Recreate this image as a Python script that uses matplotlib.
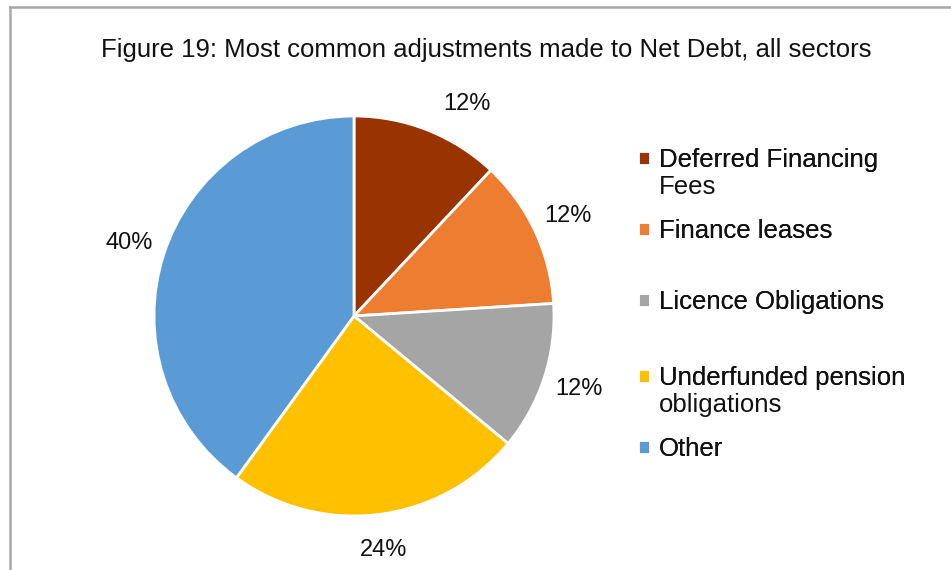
import matplotlib
matplotlib.use("Agg")
import matplotlib.pyplot as plt
from matplotlib.lines import Line2D

plt.rcParams['font.family'] = ['Liberation Sans', 'DejaVu Sans']

categories = ["Deferred Financing\nFees", "Finance leases", "Licence Obligations",
              "Underfunded pension\nobligations", "Other"]
values = [12, 12, 12, 24, 40]
colors = ["#993300", "#ED7D31", "#A5A5A5", "#FFC000", "#5B9BD5"]
title = "Figure 19: Most common adjustments made to Net Debt, all sectors"

# layout: vertical centre (pixels from top) of the first line of each legend entry
legend_entry_y = [160, 231, 302, 378, 449]
legend_line_step = 27  # pixels between wrapped lines

W, H = 951, 570
fig = plt.figure(figsize=(W / 100, H / 100), dpi=100)
fig.patch.set_facecolor("white")

cx, cy, r = 354, 316, 200
ax = fig.add_axes([(cx - r) / W, (H - cy - r) / H, 2 * r / W, 2 * r / H])
wedges, texts = ax.pie(values, colors=colors, startangle=90, counterclock=False,
                       wedgeprops=dict(edgecolor="white", linewidth=2.0),
                       labels=[f"{v}%" for v in values], labeldistance=1.18,
                       textprops=dict(fontsize=17, color="#111111"))
for t in texts:
    t.set_ha("center")
    t.set_va("center")
# first label is nudged right in the reference to clear the title
texts[0].set_position((0.565, 1.06))
ax.set_xlim(-1, 1)
ax.set_ylim(-1, 1)
ax.set_aspect("auto")

fig.text(0.511, 1 - 57 / H, title, ha="center", va="baseline", fontsize=18.5, color="#111111")

legs = []
for w, lab, ypix in zip(wedges, categories, legend_entry_y):
    lines = lab.split("\n")
    leg = fig.legend([w], [lines[0]], loc="center left",
                     bbox_to_anchor=(638 / W, 1 - ypix / H), frameon=False,
                     fontsize=18.5, handlelength=0.48, handleheight=0.48,
                     handletextpad=0.32, borderpad=0, borderaxespad=0)
    for t in leg.get_texts():
        t.set_color("#111111")
    fig.add_artist(leg)
    legs.append((leg, lines, ypix))

fig.canvas.draw()
renderer = fig.canvas.get_renderer()
for leg, lines, ypix in legs:
    if len(lines) > 1:
        t0 = leg.get_texts()[0]
        bb = t0.get_window_extent(renderer)
        for k, extra in enumerate(lines[1:], start=1):
            fig.text(bb.x0 / W, 1 - (ypix + k * legend_line_step) / H, extra,
                     ha="left", va="center", fontsize=18.5, color="#111111")

# frame lines (left and top) as in the reference
fig.add_artist(Line2D([10 / W, 10 / W], [0, 1 - 7 / H], transform=fig.transFigure,
                      color="#a8a8a8", linewidth=1.8))
fig.add_artist(Line2D([10 / W, 1], [1 - 7 / H, 1 - 7 / H], transform=fig.transFigure,
                      color="#a8a8a8", linewidth=1.8))

fig.savefig("out.png", dpi=100, facecolor="white")
